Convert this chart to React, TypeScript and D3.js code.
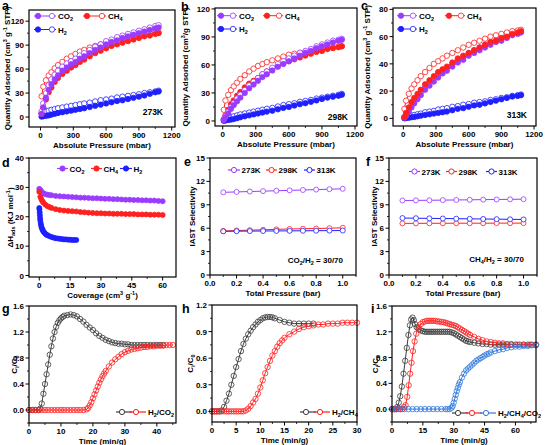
import React from 'react';
import * as d3 from 'd3';

// isotherm pressure points (mbar)
const pressure = [10, 25, 50, 75, 100, 130, 160, 200, 240, 280, 320, 360, 400, 450, 500, 550, 600, 650, 700, 750, 800, 850, 900, 950, 1000, 1050, 1080];

// 273 K
const co2Ads273 = [4, 12, 24, 34, 41, 47, 52, 58, 62, 66, 69, 73, 76, 80, 84, 87, 91, 94, 96, 99, 101, 103, 105, 107, 109, 111, 112];
const co2Des273 = [7, 17, 30, 40, 47, 53, 58, 63, 67, 70, 73, 77, 80, 84, 88, 91, 95, 97, 100, 102, 104, 106, 108, 110, 112, 114, 115];
const ch4Ads273 = [4, 12, 22, 31, 37, 44, 49, 54, 58, 62, 65, 69, 72, 76, 80, 83, 86, 89, 91, 93, 95, 97, 99, 101, 102, 104, 105];
const ch4Des273 = [26, 38, 46, 52, 56, 61, 65, 69, 73, 76, 79, 82, 84, 87, 89, 91, 93, 95, 97, 98, 100, 101, 103, 104, 105, 106, 106];
const h2Ads273 = [0.5, 1, 1.5, 2, 3, 4, 5, 6, 7, 8, 9, 10, 11, 12.5, 14, 15.5, 17, 18.5, 20, 21, 22.5, 24, 25.5, 27, 29, 31, 32];
const h2Des273 = [5, 6, 7, 8, 9, 10, 11, 12, 13, 14, 15, 16, 17, 18, 19.5, 21, 22, 23, 24.5, 25.5, 26.5, 27.5, 28.5, 30, 31, 32, 33];

// 298 K
const co2Ads298 = [1, 4, 8, 13, 17, 21, 25, 30, 35, 39, 43, 47, 50, 54, 58, 61, 64, 67, 70, 73, 75, 78, 80, 82, 84, 86, 87];
const co2Des298 = [2, 5, 10, 15, 19, 24, 28, 33, 38, 42, 46, 50, 53, 57, 61, 64, 67, 70, 73, 75, 77, 80, 82, 84, 86, 87, 88];
const ch4Ads298 = [2, 6, 12, 18, 22, 27, 31, 36, 40, 43, 46, 50, 53, 56, 59, 62, 64, 66, 68, 70, 72, 74, 75, 77, 78, 79, 80];
const ch4Des298 = [12, 22, 28, 33, 37, 41, 45, 49, 53, 56, 59, 61, 63, 65, 67, 69, 71, 72, 73, 74, 75, 76, 77, 78, 79, 80, 80];
const h2Ads298 = [0.2, 0.5, 1, 1.5, 2, 3, 4, 5, 6, 7, 8, 9, 10, 11, 12.5, 14, 15, 16.5, 18, 19, 20.5, 22, 23.5, 25, 26, 27, 28];
const h2Des298 = [1, 2, 3, 4, 5, 6, 7, 8, 9, 10, 11, 12, 13, 14, 15.5, 17, 18, 19, 20.5, 21.5, 22.5, 24, 25, 26, 27, 28, 29];

// 313 K
const co2Ads313 = [0.5, 2, 5, 8, 11, 14, 17, 21, 24, 27, 30, 33, 35, 38, 41, 43, 46, 48, 50, 52, 54, 56, 57, 59, 61, 62, 63];
const co2Des313 = [1, 3, 7, 10, 13, 16, 19, 23, 26, 30, 33, 35, 37, 40, 43, 45, 48, 50, 52, 54, 56, 57, 59, 60, 62, 63, 64];
const ch4Ads313 = [1, 4, 8, 12, 15, 18, 21, 25, 28, 31, 34, 36, 38, 41, 44, 46, 48, 50, 52, 54, 56, 57, 59, 60, 62, 63, 64];
const ch4Des313 = [7, 13, 18, 22, 25, 28, 31, 34, 37, 40, 42, 44, 46, 48, 50, 52, 54, 55.5, 57, 58.5, 60, 61, 62, 63, 64, 64.5, 65];
const h2Ads313 = [0, 0.2, 0.5, 0.8, 1, 1.5, 2, 2.5, 3, 3.5, 4, 4.5, 5, 6, 7, 7.5, 8.5, 9.5, 10, 11, 12, 13, 14, 15, 16, 16.5, 17];
const h2Des313 = [0.5, 1, 1.5, 2, 2.5, 3, 3.5, 4.5, 5, 5.5, 6.5, 7, 7.5, 8.5, 9, 10, 10.5, 11.5, 12, 12.5, 13.5, 14, 15, 15.5, 16.5, 17, 17.5];

// isosteric heat
const coverage = [0, 0.5, 1, 1.5, 2, 3, 4, 5, 6, 8, 10, 12, 14, 16, 18, 20, 22, 24, 26, 28, 30, 32, 34, 36, 38, 40, 42, 44, 46, 48, 50, 52, 54, 56, 58, 60];
const qstCO2 = [29.5, 29.2, 28.6, 28.2, 28.0, 27.7, 27.5, 27.4, 27.3, 27.1, 27.0, 26.9, 26.8, 26.7, 26.6, 26.5, 26.5, 26.4, 26.3, 26.3, 26.2, 26.1, 26.1, 26.0, 26.0, 25.9, 25.8, 25.8, 25.7, 25.7, 25.6, 25.6, 25.5, 25.5, 25.4, 25.3];
const qstCH4 = [28.5, 26.8, 26.0, 25.3, 24.8, 24.1, 23.6, 23.3, 23.0, 22.6, 22.3, 22.1, 22.0, 21.9, 21.8, 21.6, 21.5, 21.4, 21.3, 21.2, 21.2, 21.1, 21.1, 21.0, 21.0, 21.0, 20.9, 20.9, 20.9, 20.8, 20.8, 20.8, 20.7, 20.7, 20.7, 20.6];
const coverageH2 = [0, 0.1, 0.2, 0.3, 0.4, 0.5, 0.7, 0.9, 1.1, 1.4, 1.7, 2, 2.5, 3, 3.5, 4, 5, 6, 7, 8, 9, 10, 11, 12, 13, 14, 15, 16, 17, 18];
const qstH2 = [23, 22.5, 21.5, 20.5, 19.5, 18.7, 17.8, 17.0, 16.4, 15.9, 15.4, 15.0, 14.6, 14.2, 13.9, 13.7, 13.4, 13.1, 12.9, 12.7, 12.6, 12.5, 12.4, 12.3, 12.3, 12.2, 12.2, 12.1, 12.1, 12.1];

// IAST selectivity
const totalPressure = [0.1, 0.2, 0.3, 0.4, 0.5, 0.6, 0.7, 0.8, 0.9, 1.0];
const selCO2H2_273 = [10.6, 10.65, 10.7, 10.75, 10.8, 10.85, 10.9, 10.95, 11.0, 11.05];
const selCO2H2_298 = [5.65, 5.7, 5.75, 5.8, 5.85, 5.9, 5.93, 5.96, 6.0, 6.05];
const selCO2H2_313 = [5.6, 5.62, 5.63, 5.64, 5.65, 5.66, 5.67, 5.68, 5.69, 5.7];
const selCH4H2_273 = [9.55, 9.57, 9.58, 9.6, 9.62, 9.64, 9.66, 9.68, 9.7, 9.72];
const selCH4H2_298 = [6.62, 6.62, 6.63, 6.63, 6.64, 6.64, 6.64, 6.65, 6.65, 6.65];
const selCH4H2_313 = [7.3, 7.28, 7.26, 7.24, 7.22, 7.2, 7.18, 7.16, 7.14, 7.12];

// breakthrough H2/CO2
const tG_H2 = [0, 1, 2, 3, 3.5, 4, 4.5, 5, 5.5, 6, 6.5, 7, 7.5, 8, 8.5, 9, 9.5, 10, 10.5, 11, 12, 13, 14, 15, 16, 17, 18, 19, 20, 21, 22, 23, 24, 25, 26, 27, 28, 29, 30, 31, 32, 33, 34, 35, 36, 37, 38, 39, 40, 41, 42];
const cG_H2 = [0, 0, 0, 0, 0.02, 0.1, 0.25, 0.4, 0.55, 0.7, 0.85, 0.98, 1.1, 1.2, 1.28, 1.34, 1.38, 1.41, 1.43, 1.45, 1.46, 1.47, 1.46, 1.44, 1.4, 1.36, 1.31, 1.27, 1.23, 1.18, 1.14, 1.11, 1.08, 1.06, 1.04, 1.03, 1.02, 1.02, 1.01, 1.01, 1.0, 1.0, 1.0, 1.0, 1.0, 1.0, 1.0, 1.0, 1.0, 1.0, 1.0];
const tG_CO2 = [0, 1, 2, 3, 4, 5, 6, 7, 8, 9, 10, 11, 12, 13, 14, 15, 16, 17, 18, 18.5, 19, 19.5, 20, 20.5, 21, 21.5, 22, 22.5, 23, 23.5, 24, 25, 26, 27, 28, 29, 30, 31, 32, 33, 34, 35, 36, 37, 38, 39, 40, 41, 42, 43, 44, 45];
const cG_CO2 = [0, 0, 0, 0, 0, 0, 0, 0, 0, 0, 0, 0, 0, 0, 0, 0, 0, 0, 0.01, 0.03, 0.07, 0.12, 0.18, 0.24, 0.3, 0.36, 0.42, 0.47, 0.52, 0.56, 0.6, 0.67, 0.73, 0.78, 0.82, 0.86, 0.89, 0.91, 0.93, 0.94, 0.95, 0.96, 0.97, 0.97, 0.98, 0.98, 0.99, 0.99, 0.99, 1.0, 1.0, 1.0];

// breakthrough H2/CH4
const tH_H2 = [0, 0.5, 1, 1.5, 2, 2.5, 3, 3.5, 4, 4.5, 5, 5.5, 6, 6.5, 7, 7.5, 8, 8.5, 9, 9.5, 10, 10.5, 11, 11.5, 12, 12.5, 13, 14, 15, 16, 17, 18, 19, 20, 21];
const cH_H2 = [0, 0, 0, 0, 0.01, 0.05, 0.12, 0.2, 0.3, 0.4, 0.5, 0.59, 0.68, 0.76, 0.82, 0.87, 0.91, 0.95, 0.98, 1.01, 1.03, 1.05, 1.06, 1.065, 1.065, 1.06, 1.05, 1.03, 1.01, 1.0, 0.99, 0.99, 0.99, 0.99, 0.99];
const tH_CH4 = [0, 0.5, 1, 1.5, 2, 2.5, 3, 3.5, 4, 4.5, 5, 5.5, 6, 6.5, 7, 7.5, 8, 8.5, 9, 9.5, 10, 10.5, 11, 11.5, 12, 12.5, 13, 13.5, 14, 14.5, 15, 16, 17, 18, 19, 20, 21, 22, 23, 24, 25, 26, 27, 28, 29, 30];
const cH_CH4 = [0, 0, 0, 0, 0, 0, 0, 0, 0, 0, 0, 0, 0, 0, 0.01, 0.03, 0.06, 0.1, 0.14, 0.2, 0.27, 0.35, 0.43, 0.5, 0.57, 0.63, 0.68, 0.73, 0.77, 0.8, 0.83, 0.87, 0.9, 0.93, 0.95, 0.96, 0.97, 0.98, 0.98, 0.99, 0.99, 0.99, 1.0, 1.0, 1.0, 1.0];

// breakthrough H2/CH4/CO2
const tI_H2 = [0, 1, 2, 2.5, 3.3, 4, 4.8, 5.6, 6.4, 7.2, 8, 8.7, 9.3, 10, 10.6, 11.2, 12, 13, 14, 15, 16, 17, 18, 19, 20, 21, 22, 23, 24, 25, 26, 27, 28, 29, 30, 31, 32, 33, 34, 35, 36, 37, 38, 40, 42, 44, 46, 48, 50, 52, 54, 56, 58, 60, 62, 64, 66, 68, 70];
const cI_H2 = [0, 0, 0, 0.03, 0.1, 0.2, 0.35, 0.55, 0.75, 0.95, 1.15, 1.3, 1.39, 1.42, 1.38, 1.32, 1.27, 1.24, 1.22, 1.21, 1.2, 1.2, 1.2, 1.2, 1.2, 1.2, 1.2, 1.2, 1.2, 1.2, 1.2, 1.2, 1.2, 1.19, 1.18, 1.16, 1.14, 1.12, 1.1, 1.08, 1.06, 1.05, 1.04, 1.03, 1.02, 1.01, 1.01, 1.0, 1.0, 1.0, 1.0, 1.0, 1.0, 1.0, 1.0, 1.0, 1.0, 1.0, 1.0];
const tI_CH4 = [0, 1, 2, 3, 4, 5, 5.8, 6.6, 7.4, 8.1, 8.8, 9.5, 10.2, 11, 11.8, 12.8, 14, 15, 16, 17, 18, 19, 20, 21, 22, 23, 24, 25, 26, 27, 28, 29, 30, 31, 32, 33, 34, 35, 36, 37, 38, 40, 42, 44, 46, 48, 50, 52, 54, 56, 58, 61, 64, 67, 70];
const cI_CH4 = [0, 0, 0, 0, 0, 0, 0.03, 0.06, 0.19, 0.37, 0.55, 0.72, 0.9, 1.05, 1.17, 1.27, 1.32, 1.35, 1.36, 1.37, 1.37, 1.37, 1.37, 1.37, 1.36, 1.36, 1.35, 1.35, 1.34, 1.33, 1.32, 1.31, 1.3, 1.29, 1.27, 1.25, 1.23, 1.21, 1.19, 1.17, 1.15, 1.12, 1.09, 1.07, 1.05, 1.04, 1.03, 1.02, 1.02, 1.01, 1.01, 1.0, 1.0, 1.0, 1.0];
const tI_CO2 = [0, 2, 4, 6, 8, 10, 12, 14, 16, 18, 20, 22, 24, 26, 27, 28, 29, 29.5, 30, 30.5, 31, 31.5, 32, 32.5, 33, 34, 35, 36, 37, 38, 39, 40, 41, 42, 43, 44, 45, 46, 47, 48, 50, 52, 54, 56, 58, 60, 62, 64, 66, 68, 70];
const cI_CO2 = [0, 0, 0, 0, 0, 0, 0, 0, 0, 0, 0, 0, 0, 0, 0, 0, 0.02, 0.05, 0.1, 0.16, 0.22, 0.28, 0.33, 0.38, 0.42, 0.49, 0.55, 0.6, 0.63, 0.66, 0.69, 0.72, 0.75, 0.77, 0.79, 0.81, 0.83, 0.85, 0.86, 0.88, 0.9, 0.92, 0.93, 0.95, 0.96, 0.97, 0.97, 0.98, 0.98, 0.99, 0.99];

const FONT = '"Liberation Sans", Arial, Helvetica, sans-serif';
const PURPLE = '#9a3cff';
const RED = '#ff2020';
const BLUE = '#1f1fff';
const DARK = '#3c3c3c';
const LBLUE = '#2f78dc';

type Sc = d3.ScaleLinear<number, number>;

function Series({ xs, ys, x, y, color, mode, r = 2.7, line = true }: any) {
  const path = d3.line<number>().x((_, i) => x(xs[i])).y((d) => y(d))(ys);
  const fill = mode === 'filled' ? color : mode === 'open' ? 'white' : 'none';
  return (
    <g>
      {line && <path d={path || ''} fill="none" stroke={color} strokeWidth={1} />}
      {ys.map((v: number, i: number) => (
        <circle key={i} cx={x(xs[i])} cy={y(v)} r={r} fill={fill} stroke={color} strokeWidth={0.8} />
      ))}
    </g>
  );
}

function Panel({ letter, letterPos, box, xDomain, yDomain, xTicks, yTicks, xFmt, yFmt, xTitle, yTitle, yTitleX, children }: any) {
  const [L, T, R, B] = box;
  const x: Sc = d3.scaleLinear().domain(xDomain).range([L, R]);
  const y: Sc = d3.scaleLinear().domain(yDomain).range([B, T]);
  const minor = (ticks: number[], dom: number[]) => {
    const step = ticks[1] - ticks[0];
    const out: number[] = [];
    for (let v = ticks[0] - step / 2; v <= dom[1]; v += step) if (v >= dom[0]) out.push(v);
    return out;
  };
  return (
    <g>
      {children(x, y)}
      <rect x={L} y={T} width={R - L} height={B - T} fill="none" stroke="#000" strokeWidth={1.2} />
      {xTicks.map((v: number) => (
        <g key={'x' + v}>
          <line x1={x(v)} x2={x(v)} y1={B} y2={B + 3.5} stroke="#000" strokeWidth={1} />
          <text x={x(v)} y={B + 11} textAnchor="middle" fontSize={8} fontWeight="bold">{xFmt(v)}</text>
        </g>
      ))}
      {minor(xTicks, xDomain).map((v) => (
        <line key={'xm' + v} x1={x(v)} x2={x(v)} y1={B} y2={B + 2} stroke="#000" strokeWidth={0.8} />
      ))}
      {yTicks.map((v: number) => (
        <g key={'y' + v}>
          <line x1={L - 3.5} x2={L} y1={y(v)} y2={y(v)} stroke="#000" strokeWidth={1} />
          <text x={L - 5} y={y(v) + 3} textAnchor="end" fontSize={8} fontWeight="bold">{yFmt(v)}</text>
        </g>
      ))}
      {minor(yTicks, yDomain).map((v) => (
        <line key={'ym' + v} x1={L - 2} x2={L} y1={y(v)} y2={y(v)} stroke="#000" strokeWidth={0.8} />
      ))}
      <text x={(L + R) / 2} y={B + 21} textAnchor="middle" fontSize={8} fontWeight="bold">{xTitle}</text>
      <text transform={`translate(${yTitleX},${(T + B) / 2}) rotate(-90)`} textAnchor="middle" fontSize={8} fontWeight="bold">{yTitle}</text>
      <text x={letterPos[0]} y={letterPos[1]} fontSize={12.5} fontWeight="bold">{letter}</text>
    </g>
  );
}

const S = 5.5;
const sub = (s: string) => <tspan dy={2} fontSize={S}>{s}</tspan>;

function IsoLegend({ x0, x1, y, color, label }: any) {
  return (
    <g>
      <line x1={x0} x2={x1} y1={y} y2={y} stroke={color} strokeWidth={1} />
      <circle cx={x0 + 4} cy={y} r={2.7} fill={color} stroke={color} strokeWidth={0.8} />
      <circle cx={x1 - 4} cy={y} r={2.7} fill="white" stroke={color} strokeWidth={0.8} />
      <text x={x1 + 2} y={y + 3} fontSize={8} fontWeight="bold">{label}</text>
    </g>
  );
}

function DotLegend({ x0, x1, y, color, label, mode }: any) {
  return (
    <g>
      <line x1={x0} x2={x1} y1={y} y2={y} stroke={color} strokeWidth={1.2} />
      <circle cx={(x0 + x1) / 2} cy={y} r={2.6} fill={mode === 'filled' ? color : 'white'} stroke={color} strokeWidth={1} />
      <text x={x1 + 1.5} y={y + 3} fontSize={8} fontWeight="bold">{label}</text>
    </g>
  );
}

function BtLegend({ x0, y, colors, label }: any) {
  const x1 = x0 + colors.length * 14 + 2;
  return (
    <g>
      {colors.map((c: string, i: number) => (
        <g key={i}>
          <line x1={x0 + i * 14} x2={x0 + i * 14 + 16} y1={y} y2={y} stroke={c} strokeWidth={1.2} />
          <circle cx={x0 + i * 14 + 6} cy={y} r={2.6} fill="white" stroke={c} strokeWidth={1} />
        </g>
      ))}
      <text x={x1 + 2} y={y + 3} fontSize={8} fontWeight="bold">{label}</text>
    </g>
  );
}

const CO2 = <>CO{sub('2')}</>;
const CH4 = <>CH{sub('4')}</>;
const H2 = <>H{sub('2')}</>;

const qTitle = (
  <>Quantity Adsorbed (cm<tspan dy={-3} fontSize={S}>3</tspan><tspan dy={3}> g</tspan><tspan dy={-3} fontSize={S}>-1</tspan><tspan dy={3}> STP)</tspan></>
);
const qTitleB = (
  <>Quantity Adsorbed (cm<tspan dy={-3} fontSize={S}>3</tspan><tspan dy={3}>/g STP)</tspan></>
);
const cTitle = <>C<tspan dy={2} fontSize={S}>i</tspan><tspan dy={-2}>/C</tspan><tspan dy={2} fontSize={S}>0</tspan></>;

function Isotherm({ x, y, sets }: any) {
  return (
    <g>
      {sets.map((s: any, i: number) => (
        <g key={i}>
          <Series xs={pressure} ys={s.des} x={x} y={y} color={s.color} mode="open" />
          <Series xs={pressure} ys={s.ads} x={x} y={y} color={s.color} mode="filled" />
        </g>
      ))}
    </g>
  );
}

const f0 = (v: number) => d3.format('d')(v);
const f1 = (v: number) => d3.format('.1f')(v);

export default function App() {
  return (
    <svg width={546} height={445} style={{ position: 'absolute', left: 0, top: 0, background: 'white' }} fontFamily={FONT}>
      {/* a */}
      <Panel letter="a" letterPos={[2, 9.5]} box={[29, 10, 175, 127]} xDomain={[-105, 1230]} yDomain={[-12.5, 134]}
        xTicks={[0, 300, 600, 900, 1200]} yTicks={[0, 30, 60, 90, 120]} xFmt={f0} yFmt={f0}
        xTitle="Absolute Pressure (mbar)" yTitle={qTitle} yTitleX={10}>
        {(x: Sc, y: Sc) => (
          <g>
            <Isotherm x={x} y={y} sets={[
              { des: h2Des273, ads: h2Ads273, color: BLUE },
              { des: ch4Des273, ads: ch4Ads273, color: RED },
              { des: co2Des273, ads: co2Ads273, color: PURPLE },
            ]} />
            <IsoLegend x0={34} x1={56} y={16} color={PURPLE} label={CO2} />
            <IsoLegend x0={83} x1={106} y={16} color={RED} label={CH4} />
            <IsoLegend x0={34} x1={56} y={29.5} color={BLUE} label={H2} />
            <text x={163} y={115} textAnchor="end" fontSize={8.5} fontWeight="bold">273K</text>
          </g>
        )}
      </Panel>
      {/* b */}
      <Panel letter="b" letterPos={[181, 10.5]} box={[215, 8, 357, 126]} xDomain={[-70, 1218]} yDomain={[-5.4, 121]}
        xTicks={[0, 300, 600, 900, 1200]} yTicks={[0, 30, 60, 90, 120]} xFmt={f0} yFmt={f0}
        xTitle="Absolute Pressure (mbar)" yTitle={qTitleB} yTitleX={188}>
        {(x: Sc, y: Sc) => (
          <g>
            <Isotherm x={x} y={y} sets={[
              { des: h2Des298, ads: h2Ads298, color: BLUE },
              { des: ch4Des298, ads: ch4Ads298, color: RED },
              { des: co2Des298, ads: co2Ads298, color: PURPLE },
            ]} />
            <IsoLegend x0={217} x1={237} y={15.7} color={PURPLE} label={CO2} />
            <IsoLegend x0={263} x1={283} y={15.7} color={RED} label={CH4} />
            <IsoLegend x0={217} x1={237} y={29} color={BLUE} label={H2} />
            <text x={348} y={119.5} textAnchor="end" fontSize={8.5} fontWeight="bold">298K</text>
          </g>
        )}
      </Panel>
      {/* c */}
      <Panel letter="c" letterPos={[361, 10]} box={[393, 8, 536, 126]} xDomain={[-95, 1218]} yDomain={[-5.6, 81]}
        xTicks={[0, 300, 600, 900, 1200]} yTicks={[0, 20, 40, 60, 80]} xFmt={f0} yFmt={f0}
        xTitle="Absolute Pressure (mbar)" yTitle={qTitle} yTitleX={370}>
        {(x: Sc, y: Sc) => (
          <g>
            <Isotherm x={x} y={y} sets={[
              { des: h2Des313, ads: h2Ads313, color: BLUE },
              { des: co2Des313, ads: co2Ads313, color: PURPLE },
              { des: ch4Des313, ads: ch4Ads313, color: RED },
            ]} />
            <IsoLegend x0={397} x1={417} y={15.7} color={PURPLE} label={CO2} />
            <IsoLegend x0={445} x1={465} y={15.7} color={RED} label={CH4} />
            <IsoLegend x0={397} x1={417} y={29} color={BLUE} label={H2} />
            <text x={527} y={118} textAnchor="end" fontSize={8.5} fontWeight="bold">313K</text>
          </g>
        )}
      </Panel>
      {/* d */}
      <Panel letter="d" letterPos={[2, 167]} box={[29, 158, 176, 277]} xDomain={[-5, 66.5]} yDomain={[-0.5, 40]}
        xTicks={[0, 15, 30, 45, 60]} yTicks={[0, 10, 20, 30, 40]} xFmt={f0} yFmt={f0}
        xTitle={<>Coverage (cm<tspan dy={-3} fontSize={S}>3</tspan><tspan dy={3}> g</tspan><tspan dy={-3} fontSize={S}>-1</tspan><tspan dy={3}>)</tspan></>}
        yTitle={<>ΔH<tspan dy={2} fontSize={S}>ads</tspan><tspan dy={-2}> (KJ mol</tspan><tspan dy={-3} fontSize={S}>-1</tspan><tspan dy={3}>)</tspan></>}
        yTitleX={12.5}>
        {(x: Sc, y: Sc) => (
          <g>
            <Series xs={coverage} ys={qstCO2} x={x} y={y} color={PURPLE} mode="filled" r={2.5} />
            <Series xs={coverage} ys={qstCH4} x={x} y={y} color={RED} mode="filled" r={2.5} />
            <Series xs={coverageH2} ys={qstH2} x={x} y={y} color={BLUE} mode="filled" r={2.5} />
            <DotLegend x0={57} x1={68} y={168.5} color={PURPLE} label={CO2} mode="filled" />
            <DotLegend x0={91} x1={102} y={168.5} color={RED} label={CH4} mode="filled" />
            <DotLegend x0={120} x1={132} y={168.5} color={BLUE} label={H2} mode="filled" />
          </g>
        )}
      </Panel>
      {/* e */}
      <Panel letter="e" letterPos={[184, 166]} box={[210, 158, 356, 275]} xDomain={[0, 1.1]} yDomain={[0, 15]}
        xTicks={[0, 0.2, 0.4, 0.6, 0.8, 1.0]} yTicks={[0, 3, 6, 9, 12, 15]} xFmt={f1} yFmt={f0}
        xTitle="Total Pressure (bar)" yTitle="IAST Selectivity" yTitleX={195}>
        {(x: Sc, y: Sc) => (
          <g>
            <Series xs={totalPressure} ys={selCO2H2_298} x={x} y={y} color={RED} mode="open" r={2.5} />
            <Series xs={totalPressure} ys={selCO2H2_313} x={x} y={y} color={BLUE} mode="open" r={2.5} />
            <Series xs={totalPressure} ys={selCO2H2_273} x={x} y={y} color={PURPLE} mode="open" r={2.5} />
            <DotLegend x0={228} x1={240} y={170} color={PURPLE} label="273K" />
            <DotLegend x0={266} x1={277} y={170} color={RED} label="298K" />
            <DotLegend x0={304} x1={315} y={170} color={BLUE} label="313K" />
            <text x={343} y={263} textAnchor="end" fontSize={8} fontWeight="bold">CO{sub('2')}<tspan dy={-2}>/H</tspan>{sub('2')}<tspan dy={-2}> = 30/70</tspan></text>
          </g>
        )}
      </Panel>
      {/* f */}
      <Panel letter="f" letterPos={[366, 166]} box={[389, 158, 537, 275]} xDomain={[0, 1.1]} yDomain={[0, 15]}
        xTicks={[0, 0.2, 0.4, 0.6, 0.8, 1.0]} yTicks={[0, 3, 6, 9, 12, 15]} xFmt={f1} yFmt={f0}
        xTitle="Total Pressure (bar)" yTitle="IAST Selectivity" yTitleX={376.5}>
        {(x: Sc, y: Sc) => (
          <g>
            <Series xs={totalPressure} ys={selCH4H2_298} x={x} y={y} color={RED} mode="open" r={2.5} />
            <Series xs={totalPressure} ys={selCH4H2_313} x={x} y={y} color={BLUE} mode="open" r={2.5} />
            <Series xs={totalPressure} ys={selCH4H2_273} x={x} y={y} color={PURPLE} mode="open" r={2.5} />
            <DotLegend x0={409} x1={420} y={171.5} color={PURPLE} label="273K" />
            <DotLegend x0={446} x1={457} y={171.5} color={RED} label="298K" />
            <DotLegend x0={486} x1={497} y={171.5} color={BLUE} label="313K" />
            <text x={524} y={261.5} textAnchor="end" fontSize={8} fontWeight="bold">CH{sub('4')}<tspan dy={-2}>/H</tspan>{sub('2')}<tspan dy={-2}> = 30/70</tspan></text>
          </g>
        )}
      </Panel>
      {/* g */}
      <Panel letter="g" letterPos={[2, 313]} box={[29, 306, 176, 423]} xDomain={[0, 46]} yDomain={[-0.2, 1.6]}
        xTicks={[0, 10, 20, 30, 40]} yTicks={[0, 0.4, 0.8, 1.2, 1.6]} xFmt={f0} yFmt={f1}
        xTitle="Time (min/g)" yTitle={cTitle} yTitleX={16.5}>
        {(x: Sc, y: Sc) => (
          <g>
            <Series xs={tG_H2} ys={cG_H2} x={x} y={y} color={DARK} mode="none" r={2.7} />
            <Series xs={tG_CO2} ys={cG_CO2} x={x} y={y} color={RED} mode="none" r={2.7} />
            <BtLegend x0={116} y={412} colors={[DARK, RED]} label={<>H{sub('2')}<tspan dy={-2}>/CO</tspan>{sub('2')}</>} />
          </g>
        )}
      </Panel>
      {/* h */}
      <Panel letter="h" letterPos={[182, 313]} box={[212, 305, 357, 422]} xDomain={[0, 30]} yDomain={[-0.12, 1.2]}
        xTicks={[0, 5, 10, 15, 20, 25, 30]} yTicks={[0, 0.3, 0.6, 0.9, 1.2]} xFmt={f0} yFmt={f1}
        xTitle="Time (min/g)" yTitle={cTitle} yTitleX={193}>
        {(x: Sc, y: Sc) => (
          <g>
            <Series xs={tH_H2} ys={cH_H2} x={x} y={y} color={DARK} mode="none" r={2.7} />
            <Series xs={tH_CH4} ys={cH_CH4} x={x} y={y} color={RED} mode="none" r={2.7} />
            <BtLegend x0={300} y={412} colors={[DARK, RED]} label={<>H{sub('2')}<tspan dy={-2}>/CH</tspan>{sub('4')}</>} />
          </g>
        )}
      </Panel>
      {/* i */}
      <Panel letter="i" letterPos={[371, 313]} box={[392, 306, 536, 422]} xDomain={[0, 70]} yDomain={[-0.2, 1.6]}
        xTicks={[0, 15, 30, 45, 60]} yTicks={[0, 0.4, 0.8, 1.2, 1.6]} xFmt={f0} yFmt={f1}
        xTitle="Time (min/g)" yTitle={cTitle} yTitleX={378}>
        {(x: Sc, y: Sc) => (
          <g>
            <Series xs={tI_H2} ys={cI_H2} x={x} y={y} color={DARK} mode="none" r={2.7} />
            <Series xs={tI_CH4} ys={cI_CH4} x={x} y={y} color={RED} mode="none" r={2.7} />
            <Series xs={tI_CO2} ys={cI_CO2} x={x} y={y} color={LBLUE} mode="none" r={2.7} />
            <BtLegend x0={452} y={413} colors={[DARK, RED, LBLUE]} label={<>H{sub('2')}<tspan dy={-2}>/CH</tspan>{sub('4')}<tspan dy={-2}>/CO</tspan>{sub('2')}</>} />
          </g>
        )}
      </Panel>
    </svg>
  );
}
